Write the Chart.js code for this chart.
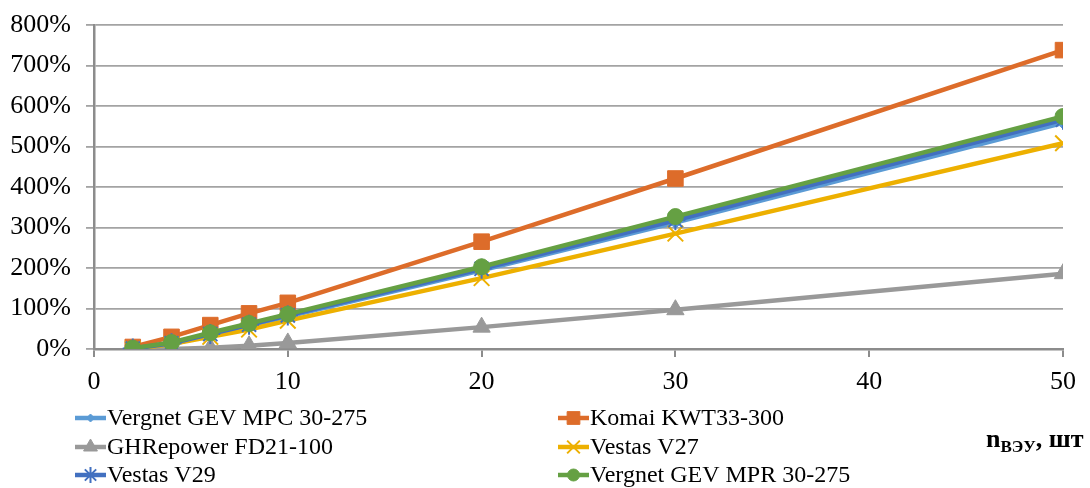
<!DOCTYPE html>
<html>
<head>
<meta charset="utf-8">
<script src="https://cdn.jsdelivr.net/npm/chart.js@4.4.1/dist/chart.umd.min.js"></script>
<style>
  html, body { margin: 0; padding: 0; background: #ffffff; }
  #wrap { width: 1090px; height: 488px; position: relative; }
</style>
</head>
<body>
<div id="wrap"><canvas id="c" width="1090" height="488"></canvas></div>
<script>
// Number of wind turbines in the farm
const units = [2, 4, 6, 8, 10, 20, 30, 50];

// Relative change, %
const vergnetMpc = [0, 12, 35, 58, 80, 194, 312, 558];
const komai      = [5, 30, 59, 88, 114, 265, 421, 738];
const ghRepower  = [0, 0, 3, 8, 15, 54, 97, 186];
const vestasV27  = [0, 12, 30, 48, 70, 175, 285, 508];
const vestasV29  = [1, 14, 37, 60, 83, 198, 318, 566];
const vergnetMpr = [2, 16, 40, 63, 86, 203, 327, 574];

const seriesNames = [
  'Vergnet GEV MPC 30-275',
  'Komai KWT33-300',
  'GHRepower FD21-100',
  'Vestas V27',
  'Vestas V29',
  'Vergnet GEV MPR 30-275'
];
const seriesValues = [vergnetMpc, komai, ghRepower, vestasV27, vestasV29, vergnetMpr];
const seriesColors = ['#5B9BD5', '#DD6C2A', '#999999', '#EDB000', '#4270C0', '#65A043'];
const markerStyles = ['rectRot', 'rect', 'triangle', 'crossRot', 'star', 'circle'];
const markerRadius = [6, 11, 10, 11, 10, 8];
const markerStroke = [1, 1, 1, 2, 2, 1];

const xTickStep = 10;
const yMax = 800;
const yTickStep = 100;

const FONT = '"Liberation Serif", "Times New Roman", serif';
const GRID = '#A3A3A3';
const AXIS = '#8C8C8C';

const datasets = seriesNames.map((name, i) => ({
  label: name,
  data: units.map((u, k) => ({ x: u, y: seriesValues[i][k] })),
  borderColor: seriesColors[i],
  backgroundColor: seriesColors[i],
  borderWidth: 4.5,
  pointStyle: markerStyles[i],
  pointRadius: markerRadius[i],
  pointHoverRadius: markerRadius[i],
  pointBackgroundColor: seriesColors[i],
  pointBorderColor: seriesColors[i],
  pointBorderWidth: markerStroke[i],
  tension: 0,
  order: seriesNames.length - 1 - i
}));

// Two-column legend and the x-axis title, drawn below the plot
const bottomText = {
  id: 'bottomText',
  afterDraw(chart) {
    const ctx = chart.ctx;
    const cols = [75, 558];
    const rows = [418, 447, 475];
    ctx.save();
    chart.data.datasets.forEach((ds, i) => {
      const x0 = cols[i % 2];
      const y = rows[Math.floor(i / 2)];
      ctx.strokeStyle = ds.borderColor;
      ctx.lineWidth = 4.5;
      ctx.beginPath();
      ctx.moveTo(x0, y);
      ctx.lineTo(x0 + 31, y);
      ctx.stroke();
      ctx.fillStyle = ds.pointBackgroundColor;
      ctx.strokeStyle = ds.pointBorderColor;
      ctx.lineWidth = ds.pointBorderWidth;
      Chart.helpers.drawPoint(ctx, {
        pointStyle: ds.pointStyle,
        radius: ds.pointRadius - 2,
        rotation: 0,
        borderWidth: ds.pointBorderWidth
      }, x0 + 15.5, y);
      ctx.fillStyle = '#000000';
      ctx.font = '24px ' + FONT;
      ctx.textBaseline = 'middle';
      ctx.textAlign = 'left';
      ctx.fillText(ds.label, x0 + 32, y + 1);
    });

    // n with subscript, then unit
    ctx.fillStyle = '#000000';
    ctx.textBaseline = 'alphabetic';
    ctx.textAlign = 'left';
    let x = 986;
    const base = 447;
    ctx.font = 'bold 26px ' + FONT;
    ctx.fillText('n', x, base);
    x += ctx.measureText('n').width;
    ctx.font = 'bold 17px ' + FONT;
    ctx.fillText('ВЭУ', x, base + 5);
    x += ctx.measureText('ВЭУ').width;
    ctx.font = 'bold 26px ' + FONT;
    ctx.fillText(', шт', x, base);
    ctx.restore();
  }
};

new Chart(document.getElementById('c'), {
  type: 'line',
  data: { datasets },
  options: {
    responsive: false,
    devicePixelRatio: 1,
    animation: false,
    events: [],
    layout: { padding: { left: 0, right: 27, top: 25, bottom: 94 } },
    plugins: {
      legend: { display: false },
      tooltip: { enabled: false }
    },
    scales: {
      x: {
        type: 'linear',
        min: 0,
        max: 50,
        ticks: {
          stepSize: xTickStep,
          color: '#000000',
          font: { family: FONT, size: 26 },
          padding: 10,
          maxRotation: 0
        },
        grid: {
          drawOnChartArea: false,
          drawTicks: true,
          tickLength: 8,
          color: AXIS,
          lineWidth: 2
        },
        border: { display: true, color: AXIS, width: 2.5 },
        afterFit(scale) {
          scale.height = 45;
          scale.paddingLeft = 0;
          scale.paddingRight = 0;
        }
      },
      y: {
        min: 0,
        max: yMax,
        ticks: {
          stepSize: yTickStep,
          color: '#000000',
          font: { family: FONT, size: 26 },
          padding: 15,
          callback: v => v + '%'
        },
        grid: {
          color: GRID,
          lineWidth: 1.8,
          drawTicks: true,
          tickLength: 8
        },
        border: { display: true, color: AXIS, width: 2.5 },
        afterFit(scale) {
          scale.width = 94;
          scale.paddingTop = 0;
          scale.paddingBottom = 0;
        }
      }
    }
  },
  plugins: [bottomText]
});
</script>
</body>
</html>
